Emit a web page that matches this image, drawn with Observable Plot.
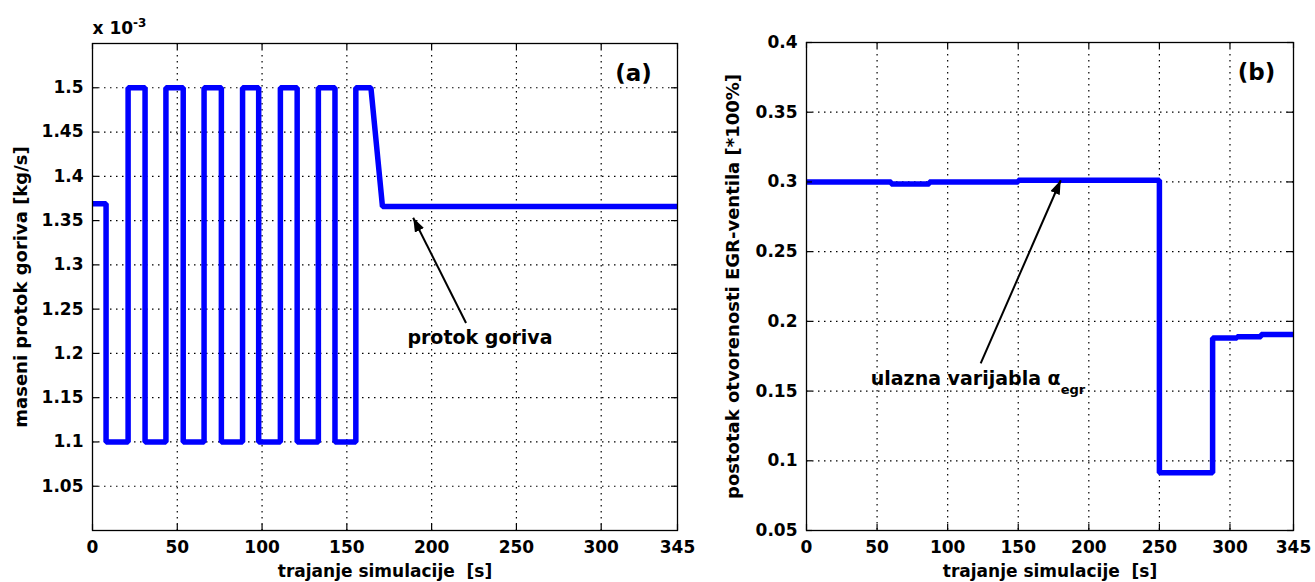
<!DOCTYPE html>
<html><head><meta charset="utf-8">
<script src="https://cdn.jsdelivr.net/npm/d3@7"></script>
<script src="https://cdn.jsdelivr.net/npm/@observablehq/plot@0.6"></script>
<style>
body{margin:0;background:#fff;}
#wrap{display:flex;width:1315px;height:582px;overflow:hidden;}
</style></head><body><div id="wrap"></div>
<script>
// ---------- data ----------
const xDomain = [0, 345];
const xTicks = [0, 50, 100, 150, 200, 250, 300, 345];
const xGrid = [50, 100, 150, 200, 250, 300];
const xLabel = "trajanje simulacije  [s]";

// panel (a): fuel mass flow, values in 10^-3 kg/s
const fuelTime = [0, 8, 8, 21, 21, 31, 31, 43.3, 43.3, 53.5, 53.5, 65.8, 65.8, 76, 76, 88.5, 88.5, 98, 98, 110.8, 110.8, 120.7, 120.7, 133.2, 133.2, 143, 143, 155.3, 155.3, 164.2, 171, 345];
const fuelFlow = [1.369, 1.369, 1.1, 1.1, 1.5, 1.5, 1.1, 1.1, 1.5, 1.5, 1.1, 1.1, 1.5, 1.5, 1.1, 1.1, 1.5, 1.5, 1.1, 1.1, 1.5, 1.5, 1.1, 1.1, 1.5, 1.5, 1.1, 1.1, 1.5, 1.5, 1.366, 1.366];
const fuelDomain = [1.0, 1.55];
const fuelTicks = [1.05, 1.1, 1.15, 1.2, 1.25, 1.3, 1.35, 1.4, 1.45, 1.5];
const fuelLabel = "maseni protok goriva [kg/s]";
const fuelScaleNote = ["x 10", "-3"];
const fuelPanelLabel = "(a)";
const fuelNote = ["protok goriva"];
const fuelNoteX = [185.7];
const fuelNoteY = [1.2174];
const fuelArrowX = [220.3, 189.1];
const fuelArrowY = [1.2344, 1.3532];

// panel (b): EGR valve opening
const egrTime = [0, 60, 60, 87, 87, 150, 150, 250, 250, 287.7, 287.7, 305, 305, 322, 322, 345];
const egrOpening = [0.3, 0.3, 0.2985, 0.2985, 0.3, 0.3, 0.3012, 0.3012, 0.0915, 0.0915, 0.188, 0.188, 0.189, 0.189, 0.1905, 0.1905];
const egrDomain = [0.05, 0.4];
const egrTicks = [0.05, 0.1, 0.15, 0.2, 0.25, 0.3, 0.35, 0.4];
const egrLabel = "postotak otvorenosti EGR-ventila [*100%]";
const egrPanelLabel = "(b)";
const egrNote = ["ulazna varijabla α", "egr"];
const egrNoteX = [45.5];
const egrNoteY = [0.159];
const egrArrowX = [123.4, 180.1];
const egrArrowY = [0.1698, 0.3012];

// ---------- helpers ----------
const H = 582;
const FONT = "DejaVu Sans";
const gridStyle = {stroke: "black", strokeOpacity: 1, strokeWidth: 1.2, strokeDasharray: "1.5,4.5"};

function filledHead(color) {
  return d3.create("svg:marker")
    .attr("viewBox", "-14 -5 14 10")
    .attr("markerWidth", 14).attr("markerHeight", 10)
    .attr("markerUnits", "userSpaceOnUse")
    .attr("refX", 0).attr("refY", 0)
    .attr("orient", "auto")
    .attr("fill", color).attr("stroke", "none")
    .call(m => m.append("path").attr("d", "M-14,-5L0,0L-14,5Z"))
    .node();
}

// replace a text mark's content with tspans: parts [{t, dy, size}]
function rich(parts) {
  return function(index, scales, values, dims, context, next) {
    const g = next(index, scales, values, dims, context);
    d3.select(g).selectAll("text").each(function() {
      const t = d3.select(this);
      t.text(null);
      for (const p of parts) {
        const s = t.append("tspan").text(p.t);
        if (p.dy) s.attr("dy", p.dy);
        if (p.size) s.attr("font-size", p.size);
      }
    });
    return g;
  };
}

function panel(o) {
  const plotW = o.width - o.ml - o.mr;
  const plotH = H - o.mt - o.mb;
  const idx = o.xs.map((_, i) => i);
  const aIdx = [0];
  return Plot.plot({
    width: o.width, height: H,
    marginLeft: o.ml, marginRight: o.mr, marginTop: o.mt, marginBottom: o.mb,
    style: {fontFamily: FONT, fontWeight: "bold", fontSize: "17px", background: "white", color: "black", overflow: "visible"},
    x: {domain: xDomain, label: null},
    y: {domain: o.yDomain, label: null},
    marks: [
      Plot.gridX(xGrid, gridStyle),
      Plot.gridY(o.yGrid, gridStyle),
      Plot.line(idx, {x: i => o.xs[i], y: i => o.ys[i], stroke: "#0000ff", strokeWidth: 5.5, strokeLinejoin: "miter", strokeLinecap: "butt"}),
      Plot.frame({stroke: "black", strokeWidth: 1.3}),
      // inward ticks on all four sides
      Plot.ruleX(xTicks, {x: d => d, insetTop: plotH - 6, stroke: "black", strokeWidth: 1.2}),
      Plot.ruleX(xTicks, {x: d => d, insetBottom: plotH - 6, stroke: "black", strokeWidth: 1.2}),
      Plot.ruleY(o.yTicks, {y: d => d, insetRight: plotW - 6, stroke: "black", strokeWidth: 1.2}),
      Plot.ruleY(o.yTicks, {y: d => d, insetLeft: plotW - 6, stroke: "black", strokeWidth: 1.2}),
      Plot.axisX(xTicks, {tickSize: 0, tickPadding: 10, tickFormat: d => String(d), label: null}),
      Plot.axisY(o.yTicks, {tickSize: 0, tickPadding: 9, tickFormat: d => String(d), label: null}),
      Plot.text([xLabel], {frameAnchor: "bottom", dy: 41, lineAnchor: "middle", textAnchor: "middle"}),
      Plot.text([o.yLabel], {frameAnchor: "left", rotate: -90, dx: o.yLabelDx, lineAnchor: "middle", textAnchor: "middle", fontSize: 18}),
      Plot.text([o.panelLabel], {frameAnchor: "top-right", dx: o.panelDx, dy: 30, lineAnchor: "middle", textAnchor: "middle", fontSize: 23}),
      Plot.link(aIdx, {x1: () => o.ax[0], y1: () => o.ay[0], x2: () => o.ax[1], y2: () => o.ay[1], stroke: "black", strokeWidth: 2, markerEnd: filledHead}),
      Plot.text(aIdx, {x: () => o.nx[0], y: () => o.ny[0], text: () => o.note.join(""), textAnchor: "start", lineAnchor: "middle", fontSize: 19, render: o.noteParts ? rich(o.noteParts) : undefined}),
      ...(o.extra || [])
    ]
  });
}

const left = panel({
  width: 700, ml: 92, mr: 23, mt: 43, mb: 52,
  xs: fuelTime, ys: fuelFlow, yDomain: fuelDomain, yTicks: fuelTicks, yGrid: fuelTicks,
  yLabel: fuelLabel, yLabelDx: -71, panelLabel: fuelPanelLabel, panelDx: -44,
  ax: fuelArrowX, ay: fuelArrowY, nx: fuelNoteX, ny: fuelNoteY, note: fuelNote,
  extra: [
    Plot.text([fuelScaleNote.join("")], {frameAnchor: "top-left", dy: -15, textAnchor: "start", lineAnchor: "middle",
      render: rich([{t: fuelScaleNote[0]}, {t: fuelScaleNote[1], dy: -7, size: 12}])})
  ]
});

const right = panel({
  width: 615, ml: 106, mr: 22, mt: 42, mb: 52,
  xs: egrTime, ys: egrOpening, yDomain: egrDomain, yTicks: egrTicks, yGrid: egrTicks.slice(1, -1),
  yLabel: egrLabel, yLabelDx: -73, panelLabel: egrPanelLabel, panelDx: -37,
  ax: egrArrowX, ay: egrArrowY, nx: egrNoteX, ny: egrNoteY, note: egrNote,
  noteParts: [{t: egrNote[0]}, {t: egrNote[1], dy: 9, size: 13}]
});

document.getElementById("wrap").append(left, right);
</script></body></html>
